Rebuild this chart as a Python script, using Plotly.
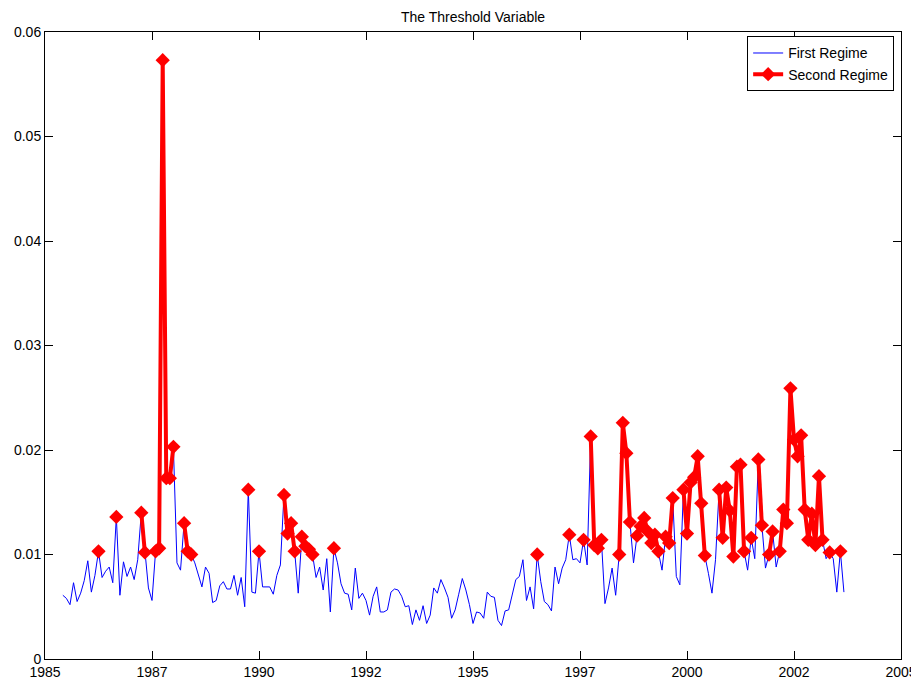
import numpy as np
import plotly.graph_objects as go

# monthly threshold variable, first observation June 1985
start_year = 1985
start_month = 6
threshold = 0.0098

vol_1985_1989 = [
    0.0061, 0.0058, 0.0052, 0.0073, 0.0055, 0.0063, 0.0075,
    0.0094, 0.0064, 0.0080, 0.0103, 0.0078, 0.0084, 0.0088, 0.0073, 0.0136, 0.0061, 0.0093, 0.0079,
    0.0088, 0.0076, 0.0095, 0.0140, 0.0102, 0.0068, 0.0056, 0.0103, 0.0106, 0.0573, 0.0173, 0.0173,
    0.0203, 0.0092, 0.0085, 0.0130, 0.0103, 0.0100, 0.0092, 0.0080, 0.0069, 0.0088, 0.0082, 0.0054,
    0.0056, 0.0070, 0.0074, 0.0067, 0.0067, 0.0080, 0.0061, 0.0078, 0.0050, 0.0162, 0.0064, 0.0063,
]
vol_1990_1994 = [
    0.0103, 0.0069, 0.0069, 0.0069, 0.0062, 0.0080, 0.0090, 0.0157, 0.0120, 0.0130, 0.0103, 0.0063,
    0.0117, 0.0108, 0.0105, 0.0100, 0.0078, 0.0088, 0.0066, 0.0096, 0.0045, 0.0106, 0.0092, 0.0072,
    0.0063, 0.0062, 0.0047, 0.0087, 0.0058, 0.0063, 0.0056, 0.0042, 0.0060, 0.0069, 0.0045, 0.0045,
    0.0047, 0.0064, 0.0067, 0.0066, 0.0060, 0.0050, 0.0051, 0.0033, 0.0047, 0.0037, 0.0051, 0.0034,
    0.0042, 0.0068, 0.0063, 0.0076, 0.0068, 0.0059, 0.0039, 0.0047, 0.0062, 0.0077, 0.0066, 0.0052,
]
vol_1995_1999 = [
    0.0034, 0.0045, 0.0044, 0.0039, 0.0064, 0.0060, 0.0059, 0.0037, 0.0032, 0.0046, 0.0047, 0.0061,
    0.0076, 0.0079, 0.0095, 0.0056, 0.0069, 0.0048, 0.0100, 0.0074, 0.0055, 0.0052, 0.0046, 0.0088,
    0.0072, 0.0087, 0.0095, 0.0119, 0.0095, 0.0096, 0.0092, 0.0114, 0.0090, 0.0213, 0.0109, 0.0106,
    0.0114, 0.0053, 0.0068, 0.0087, 0.0061, 0.0100, 0.0226, 0.0197, 0.0131, 0.0092, 0.0118, 0.0127,
    0.0135, 0.0122, 0.0111, 0.0119, 0.0103, 0.0085, 0.0117, 0.0111, 0.0154, 0.0079, 0.0071, 0.0162,
]
vol_2000_2003 = [
    0.0120, 0.0169, 0.0174, 0.0194, 0.0149, 0.0099, 0.0082, 0.0063, 0.0095, 0.0162, 0.0116, 0.0164,
    0.0142, 0.0098, 0.0184, 0.0186, 0.0103, 0.0085, 0.0116, 0.0096, 0.0191, 0.0128, 0.0087, 0.0100,
    0.0122, 0.0088, 0.0103, 0.0143, 0.0130, 0.0259, 0.0210, 0.0194, 0.0214, 0.0143, 0.0114, 0.0139,
    0.0109, 0.0175, 0.0114, 0.0096, 0.0102, 0.0096, 0.0064, 0.0103, 0.0064,
]

x_ticks = [1985, 1987.5, 1990, 1992.5, 1995, 1997.5, 2000, 2002.5, 2005]
x_labels = ['1985', '1987', '1990', '1992', '1995', '1997', '2000', '2002', '2005']
y_ticks = [0, 0.01, 0.02, 0.03, 0.04, 0.05, 0.06]
y_labels = ['0', '0.01', '0.02', '0.03', '0.04', '0.05', '0.06']

series = np.array(vol_1985_1989 + vol_1990_1994 + vol_1995_1999 + vol_2000_2003)
t = start_year + (start_month - 1 + np.arange(len(series))) / 12
second = np.where(series >= threshold, series, np.nan)

font = dict(family='Liberation Sans, Arial, sans-serif', size=14, color='black')

fig = go.Figure()
fig.add_trace(go.Scatter(
    x=t, y=series, mode='lines', name='First Regime',
    line=dict(color='#0000FF', width=1),
))
fig.add_trace(go.Scatter(
    x=t, y=second, mode='lines+markers', name='Second Regime',
    line=dict(color='#FF0000', width=4),
    marker=dict(symbol='diamond', size=11, color='#FF0000'),
    connectgaps=False,
))

axis = dict(
    showline=True, linecolor='black', linewidth=1, mirror='ticks',
    ticks='inside', ticklen=8, tickcolor='black',
    showgrid=False, zeroline=False, tickfont=font, automargin=False,
)
# the page body adds 8px around the figure, so the figure is 8px smaller on each axis
fig.update_layout(
    width=911, height=676,
    margin=dict(l=37, r=18, t=24, b=25),
    paper_bgcolor='white', plot_bgcolor='white',
    font=font,
    title=dict(text='The Threshold Variable', x=0.5, xref='paper',
               y=1 - 9 / 676, yref='container', yanchor='middle',
               font=dict(size=14)),
    xaxis=dict(axis, range=[1985, 2005], tickvals=x_ticks, ticktext=x_labels),
    yaxis=dict(axis, range=[0, 0.06], tickvals=y_ticks, ticktext=y_labels),
    legend=dict(x=0.992, y=0.993, xanchor='right', yanchor='top',
                bgcolor='white', bordercolor='black', borderwidth=1,
                font=font, itemwidth=30, tracegroupgap=0),
    showlegend=True,
)

fig.write_html('out.html')
